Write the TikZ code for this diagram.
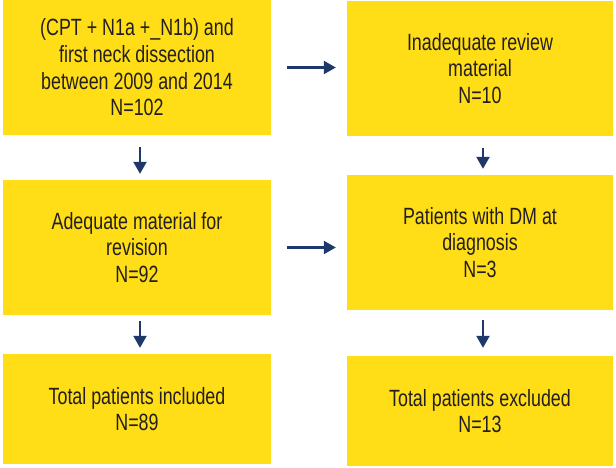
\documentclass[tikz,border=0pt]{standalone}
\usepackage{fontspec}
\setmainfont[FakeStretch=0.76]{Liberation Sans}
\usepackage{tikz}
\usetikzlibrary{arrows.meta, calc}

\begin{document}
\begin{tikzpicture}[x=1pt, y=1pt]
    % --- GLOBAL DEFINITIONS ---
    \definecolor{boxfill}{RGB}{255, 221, 23}
    \definecolor{arrownavy}{RGB}{30, 56, 108}
    \definecolor{boxtext}{RGB}{35, 31, 32}

    \tikzset{
        flowbox/.style={rectangle, fill=boxfill, draw=none, align=center,
            text=boxtext, inner sep=0pt, font=\fontsize{23.5}{26.7}\selectfont},
        flowarrow/.style={-{Triangle[length=12pt, width=13pt]}, line width=2.2pt,
            draw=arrownavy, fill=arrownavy}
    }

    \useasboundingbox[fill=white] (0,0) rectangle (616,467);

    % LEFT COLUMN
    \node[flowbox, minimum width=268, minimum height=135] (start) at (137,399.5)
        {(CPT + N1a +\_N1b) and\\first neck dissection\\between 2009 and 2014\\N=102};
    \node[flowbox, minimum width=268, minimum height=135] (adequate) at (137,219.5)
        {Adequate material for\\revision\\N=92};
    \node[flowbox, minimum width=268, minimum height=110] (included) at (137,58)
        {Total patients included\\N=89};

    % RIGHT COLUMN
    \node[flowbox, minimum width=266, minimum height=135] (inadequate) at (480,398.5)
        {Inadequate review\\material\\N=10};
    \node[flowbox, minimum width=266, minimum height=135] (metastasis) at (480,224.5)
        {Patients with DM at\\diagnosis\\N=3};
    \node[flowbox, minimum width=266, minimum height=110] (excluded) at (480,56)
        {Total patients excluded\\N=13};

    % ARROWS
    \draw[flowarrow, shorten <=16pt, shorten >=11pt] (start.east) -- (start.east -| inadequate.west);
    \draw[flowarrow, shorten <=16pt, shorten >=11pt] (adequate.east) -- (adequate.east -| metastasis.west);
    \draw[flowarrow, shorten <=12pt, shorten >=6pt] ([xshift=3pt]start.south) -- ([xshift=3pt]adequate.north);
    \draw[flowarrow, shorten <=6pt, shorten >=6pt] ([xshift=3pt]adequate.south) -- ([xshift=3pt]included.north);
    \draw[flowarrow, shorten <=12pt, shorten >=6pt] ([xshift=3pt]inadequate.south) -- ([xshift=3pt]metastasis.north);
    \draw[flowarrow, shorten <=10pt, shorten >=8pt] ([xshift=3pt]metastasis.south) -- ([xshift=3pt]excluded.north);
\end{tikzpicture}
\end{document}
